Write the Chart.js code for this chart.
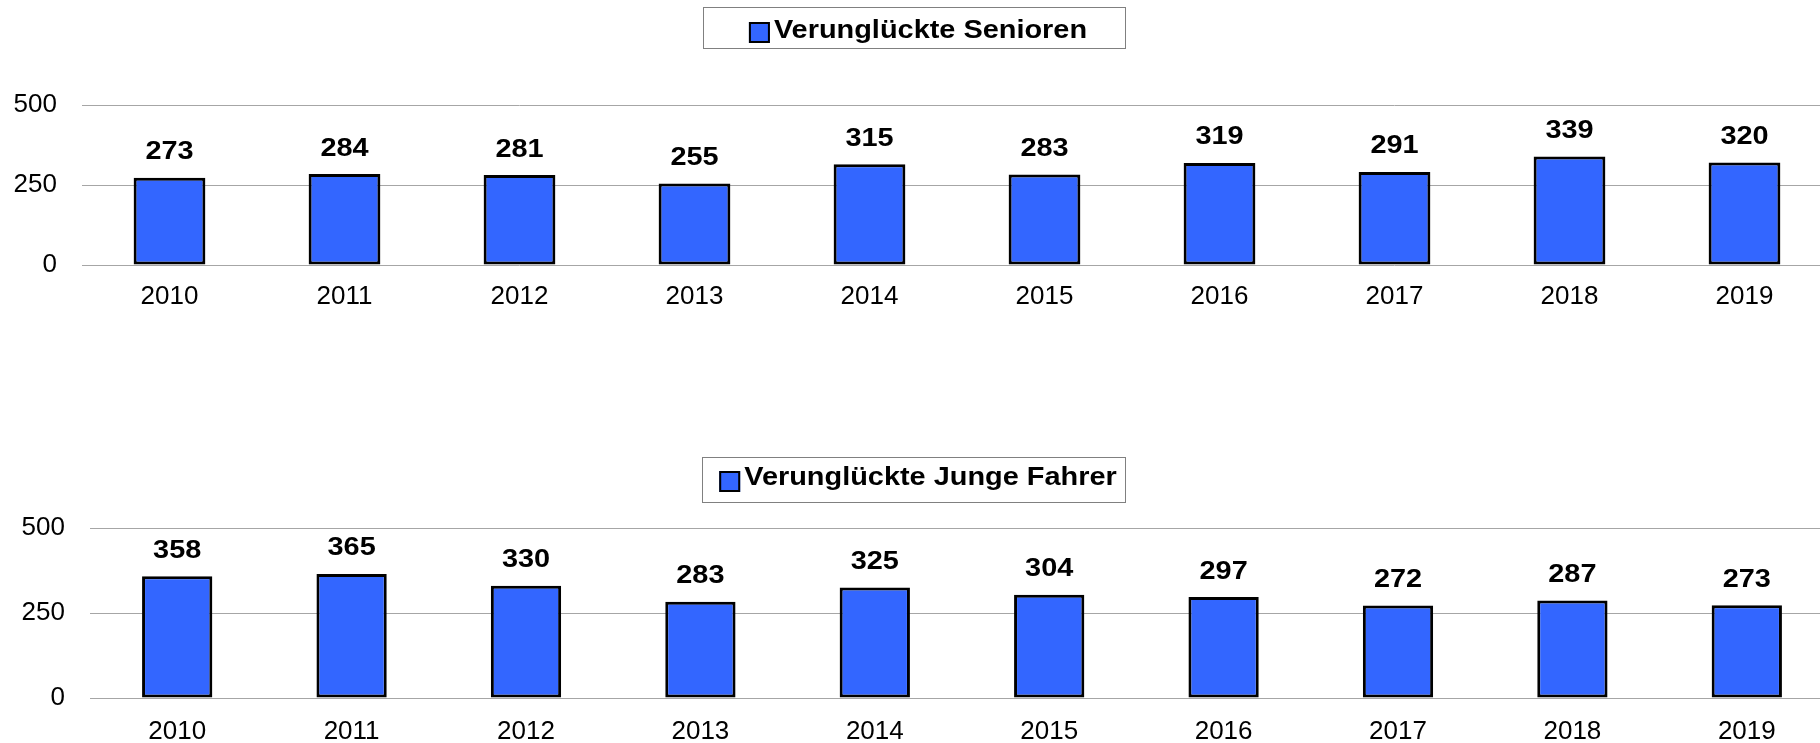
<!DOCTYPE html>
<html><head><meta charset="utf-8">
<script src="https://cdn.jsdelivr.net/npm/chart.js@4"></script>
<style>
html,body{margin:0;padding:0;background:#fff;width:1820px;height:743px;overflow:hidden;position:relative;}
#wrap1{position:absolute;left:0;top:0;width:1832px;height:330px;}
#wrap2{position:absolute;left:0;top:420px;width:1834px;height:323px;}
</style></head><body>
<div id="wrap1"><canvas id="c1"></canvas></div>
<div id="wrap2"><canvas id="c2"></canvas></div>
<script>
const years = ['2010','2011','2012','2013','2014','2015','2016','2017','2018','2019'];
const seniorValues = [273, 284, 281, 255, 315, 283, 319, 291, 339, 320];
const youngValues = [358, 365, 330, 283, 325, 304, 297, 272, 287, 273];
const yTicks = [0, 250, 500];
const seniorLabel = 'Verunglückte Senioren';
const youngLabel = 'Verunglückte Junge Fahrer';

const FONT = '"Liberation Sans", Arial, Helvetica, sans-serif';
const BAR_COLOR = '#3366FF';

const boxLegend = {
  id: 'boxLegend',
  afterDraw(chart, args, o) {
    const ctx = chart.ctx;
    const ds = chart.data.datasets[0];
    ctx.save();
    ctx.fillStyle = '#fff';
    ctx.fillRect(o.left, o.top, o.width, o.height);
    ctx.strokeStyle = '#808080';
    ctx.lineWidth = 1;
    ctx.strokeRect(o.left + 0.5, o.top + 0.5, o.width, o.height);
    ctx.font = 'bold 25px ' + FONT;
    const tw = ctx.measureText(ds.label).width * o.sx;
    const sq = 21, gap = 4;
    const total = sq + gap + tw;
    const x0 = o.center - total / 2;
    ctx.fillStyle = ds.backgroundColor;
    ctx.fillRect(x0, o.squareTop, sq, sq);
    ctx.strokeStyle = '#000';
    ctx.lineWidth = 2;
    ctx.strokeRect(x0 + 1, o.squareTop + 1, sq - 2, sq - 2);
    ctx.translate(x0 + sq + gap, o.baseline);
    ctx.scale(o.sx, 1);
    ctx.fillStyle = '#000';
    ctx.textAlign = 'left';
    ctx.textBaseline = 'alphabetic';
    ctx.fillText(ds.label, 0, 0);
    ctx.restore();
  }
};

const valueLabels = {
  id: 'valueLabels',
  afterDatasetsDraw(chart, args, o) {
    const ctx = chart.ctx;
    const meta = chart.getDatasetMeta(0);
    const data = chart.data.datasets[0].data;
    meta.data.forEach((bar, i) => {
      ctx.save();
      ctx.translate(bar.x, bar.y - o.offset);
      ctx.scale(o.sx, 1);
      ctx.font = 'bold 26px ' + FONT;
      ctx.fillStyle = '#000';
      ctx.textAlign = 'center';
      ctx.textBaseline = 'alphabetic';
      ctx.fillText(String(data[i]), 0, 0);
      ctx.restore();
    });
  }
};

function makeChart(id, values, label, cfg) {
  return new Chart(document.getElementById(id), {
    type: 'bar',
    data: {
      labels: years,
      datasets: [{
        label: label,
        data: values,
        backgroundColor: BAR_COLOR,
        borderColor: '#000',
        borderWidth: 3,
        borderSkipped: false,
        barPercentage: cfg.barPct,
        categoryPercentage: 1
      }]
    },
    options: {
      responsive: true,
      maintainAspectRatio: false,
      animation: false,
      layout: { padding: { top: cfg.topPad, left: 0, right: 0, bottom: 0 } },
      plugins: {
        legend: { display: false },
        tooltip: { enabled: false },
        title: { display: false },
        boxLegend: cfg.legend,
        valueLabels: { offset: 18.5, sx: 1.11 }
      },
      scales: {
        x: {
          grid: { display: false, drawTicks: false },
          border: { display: false },
          ticks: { font: { family: FONT, size: 26 }, color: '#000', padding: cfg.xPad, maxRotation: 0, autoSkip: false },
          afterFit: s => { s.height = cfg.xHeight; }
        },
        y: {
          min: 0, max: 500,
          afterBuildTicks: s => { s.ticks = yTicks.map(v => ({ value: v })); },
          grid: { color: '#a6a6a6', lineWidth: 1, drawTicks: false },
          border: { display: false },
          ticks: { font: { family: FONT, size: 26 }, color: '#000', padding: 25 },
          afterFit: s => { s.width = cfg.yWidth; }
        }
      }
    },
    plugins: [boxLegend, valueLabels]
  });
}

makeChart('c1', seniorValues, seniorLabel, {
  barPct: 0.41, topPad: 105, xHeight: 65, xPad: 16, yWidth: 82,
  legend: { left: 703, top: 7, width: 422, height: 41, center: 918, squareTop: 22, baseline: 38, sx: 1.156 }
});
makeChart('c2', youngValues, youngLabel, {
  barPct: 0.403, topPad: 108, xHeight: 45, xPad: 18, yWidth: 90,
  legend: { left: 702, top: 37, width: 423, height: 45, center: 918, squareTop: 51, baseline: 65, sx: 1.156 }
});
</script>
</body></html>
